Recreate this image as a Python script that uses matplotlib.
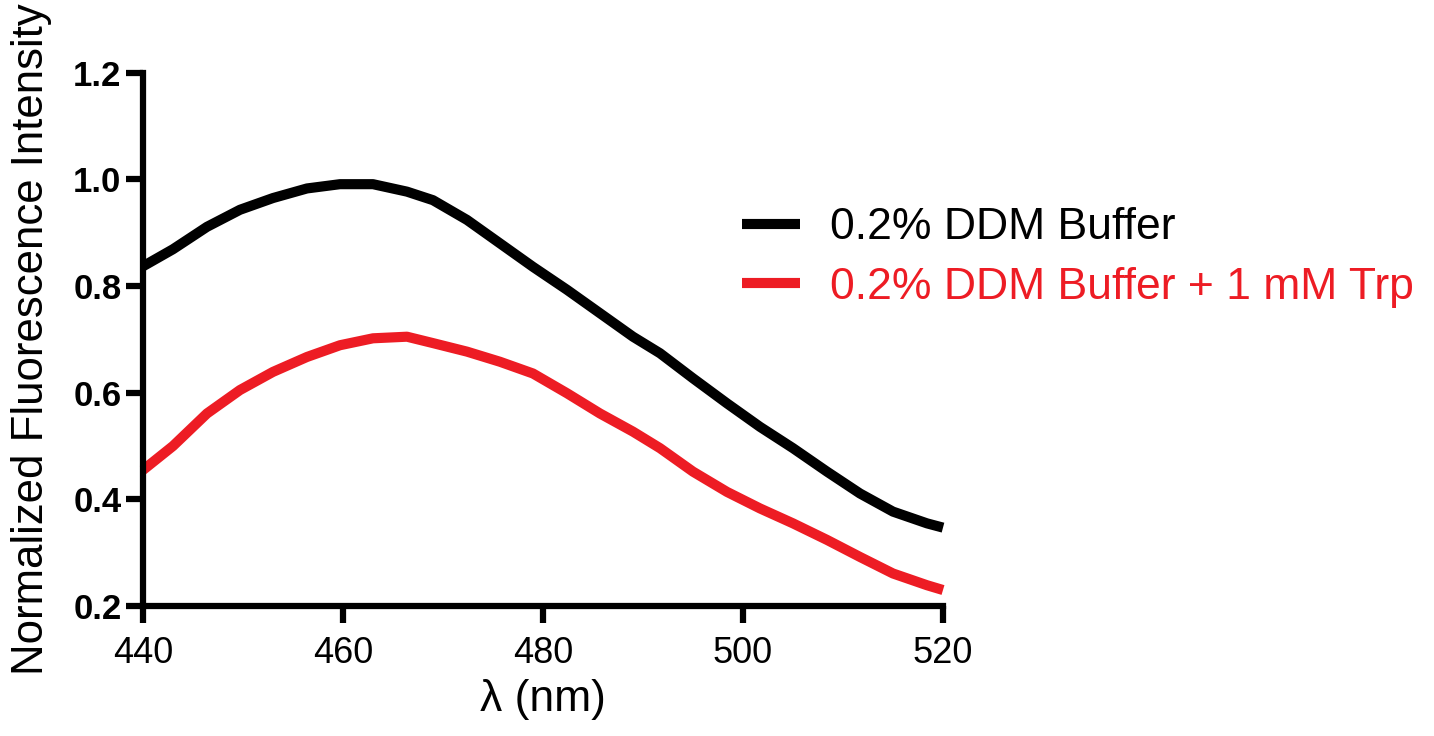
import matplotlib
matplotlib.use("Agg")
import matplotlib.pyplot as plt

plt.rcParams['font.family'] = ['Liberation Sans', 'DejaVu Sans']

# wavelength (nm) and normalized intensities
wavelength = [440, 443, 446.4, 449.7, 453, 456.4, 459.7, 463, 466.4, 469, 472.4, 475.7, 479,
              482.4, 485.7, 489, 491.7, 495, 498.4, 501.7, 505, 508.4, 511.7, 515, 518.4, 520]
ddm = [0.837, 0.869, 0.911, 0.943, 0.965, 0.983, 0.991, 0.991, 0.977, 0.961, 0.924, 0.880, 0.836,
       0.793, 0.749, 0.705, 0.674, 0.627, 0.580, 0.536, 0.496, 0.452, 0.411, 0.377, 0.355, 0.347]
ddm_trp = [0.455, 0.500, 0.561, 0.605, 0.639, 0.667, 0.689, 0.702, 0.705, 0.693, 0.677, 0.658, 0.636,
           0.599, 0.561, 0.527, 0.496, 0.452, 0.414, 0.383, 0.355, 0.324, 0.292, 0.261, 0.239, 0.230]

labels = ['0.2% DDM Buffer', '0.2% DDM Buffer + 1 mM Trp']
colors = ['black', '#ED1C24']

fig = plt.figure(figsize=(14.34, 7.36), dpi=100)
ax = fig.add_axes([0.0997, 0.1766, 0.5579, 0.7246])

ax.plot(wavelength, ddm, color=colors[0], lw=7.3, label=labels[0], solid_capstyle='butt',
        solid_joinstyle='round', clip_on=False)
ax.plot(wavelength, ddm_trp, color=colors[1], lw=7.3, label=labels[1], solid_capstyle='butt',
        solid_joinstyle='round', clip_on=False)

ax.set_xlim(440, 520)
ax.set_ylim(0.2, 1.2)
ax.set_xticks([440, 460, 480, 500, 520])
ax.set_yticks([0.2, 0.4, 0.6, 0.8, 1.0, 1.2])
ax.set_yticklabels(['0.2', '0.4', '0.6', '0.8', '1.0', '1.2'], fontweight='bold')

for s in ['top', 'right']:
    ax.spines[s].set_visible(False)
for s in ['left', 'bottom']:
    ax.spines[s].set_linewidth(4.5)
ax.tick_params(axis='both', width=4.5, length=12.5)
ax.tick_params(axis='x', labelsize=26, pad=9)
ax.tick_params(axis='y', labelsize=25, pad=3)

ax.set_xlabel('λ (nm)', fontsize=32, labelpad=6)
ax.set_ylabel('Normalized Fluorescence Intensity', fontsize=31.5, labelpad=15)

leg = ax.legend(loc='center left', bbox_to_anchor=(0.5174, 0.650), bbox_transform=fig.transFigure,
                frameon=False, fontsize=32, handlelength=1.31, handletextpad=0.68,
                labelspacing=0.42, borderpad=0, borderaxespad=0)
for txt, c in zip(leg.get_texts(), colors):
    txt.set_color(c)

fig.savefig('out.png', dpi=100)
